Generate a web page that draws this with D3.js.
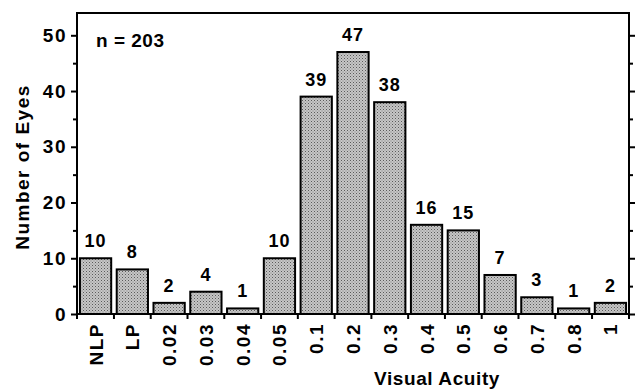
<!DOCTYPE html>
<html>
<head>
<meta charset="utf-8">
<script src="https://cdn.jsdelivr.net/npm/d3@7"></script>
<style>
  body { margin: 0; background: #fff; }
  text { font-family: "Liberation Sans", Arial, Helvetica, sans-serif; font-weight: bold; fill: #000; }
</style>
</head>
<body>
<div id="chart"></div>
<script>
// categories and counts
let categories = ['NLP', 'LP', '0.02', '0.03', '0.04', '0.05', '0.1', '0.2', '0.3', '0.4', '0.5', '0.6', '0.7', '0.8', '1'];
let counts = [10, 8, 2, 4, 1, 10, 39, 47, 38, 16, 15, 7, 3, 1, 2];
let yTicks = [0, 10, 20, 30, 40, 50];
let yMinorTicks = [5, 15, 25, 35, 45];

let width = 635, height = 392;
let margin = { top: 13, right: 6, bottom: 78, left: 77 };
let bodyWidth = width - margin.left - margin.right;
let bodyHeight = height - margin.top - margin.bottom;

let data = categories.map((c, i) => ({ key: c, value: counts[i] }));

let svg = d3.select("#chart").append("svg")
  .attr("width", width)
  .attr("height", height);

// halftone-ish fill like the printed bars
let defs = svg.append("defs");
let pat = defs.append("pattern")
  .attr("id", "stipple")
  .attr("patternUnits", "userSpaceOnUse")
  .attr("width", 3).attr("height", 3);
pat.append("rect").attr("width", 3).attr("height", 3).attr("fill", "#c6c6c6");
pat.append("rect").attr("x", 0).attr("y", 0).attr("width", 1).attr("height", 1).attr("fill", "#5a5a5a");
pat.append("rect").attr("x", 1.5).attr("y", 1.5).attr("width", 1).attr("height", 1).attr("fill", "#808080");

let g = svg.append("g").attr("transform", `translate(${margin.left},${margin.top})`);

let xScale = d3.scaleBand()
  .domain(categories)
  .range([0, bodyWidth])
  .paddingInner(0.15)
  .paddingOuter(0.08);

let yScale = d3.scaleLinear()
  .domain([0, 54])
  .range([bodyHeight, 0]);

// bars
g.selectAll("rect.bar")
  .data(data)
  .enter()
  .append("rect")
  .attr("class", "bar")
  .attr("x", d => xScale(d.key))
  .attr("y", d => yScale(d.value))
  .attr("width", xScale.bandwidth())
  .attr("height", d => bodyHeight - yScale(d.value))
  .attr("fill", "url(#stipple)")
  .attr("stroke", "#000")
  .attr("stroke-width", 2);

// value labels
g.selectAll("text.val")
  .data(data)
  .enter()
  .append("text")
  .attr("class", "val")
  .attr("x", d => xScale(d.key) + xScale.bandwidth() / 2)
  .attr("y", d => yScale(d.value) - 11)
  .attr("text-anchor", "middle")
  .style("font-size", "18px")
  .style("letter-spacing", "1px")
  .text(d => d.value);

// frame
g.append("rect")
  .attr("width", bodyWidth)
  .attr("height", bodyHeight)
  .attr("fill", "none")
  .attr("stroke", "#000")
  .attr("stroke-width", 2);

// left axis
let left = g.append("g").call(d3.axisLeft(yScale).tickValues(yTicks).tickSize(6).tickPadding(4));
left.select(".domain").remove();
left.selectAll("line").attr("stroke-width", 2);
left.selectAll("text")
  .style("font-size", "19px")
  .style("letter-spacing", "1.5px")
  .style("font-family", null);
g.append("g").call(d3.axisLeft(yScale).tickValues(yMinorTicks).tickSize(4).tickFormat(""))
  .call(a => a.select(".domain").remove())
  .selectAll("line").attr("stroke-width", 2);

// right axis ticks
let right = g.append("g").attr("transform", `translate(${bodyWidth},0)`);
right.call(d3.axisRight(yScale).tickValues(yTicks).tickSize(6).tickFormat(""))
  .call(a => a.select(".domain").remove())
  .selectAll("line").attr("stroke-width", 2);
g.append("g").attr("transform", `translate(${bodyWidth},0)`)
  .call(d3.axisRight(yScale).tickValues(yMinorTicks).tickSize(4).tickFormat(""))
  .call(a => a.select(".domain").remove())
  .selectAll("line").attr("stroke-width", 2);

// bottom axis: ticks at band boundaries, labels rotated
let step = xScale.step();
let bounds = d3.range(categories.length + 1).map(i => i === 0 ? 0 : (i === categories.length ? bodyWidth : xScale(categories[i]) - step * xScale.paddingInner() / 2));
g.selectAll("line.xtick")
  .data(bounds)
  .enter()
  .append("line")
  .attr("class", "xtick")
  .attr("x1", d => d).attr("x2", d => d)
  .attr("y1", bodyHeight).attr("y2", bodyHeight + 5)
  .attr("stroke", "#000")
  .attr("stroke-width", 2);

g.selectAll("text.xlab")
  .data(categories)
  .enter()
  .append("text")
  .attr("class", "xlab")
  .attr("transform", d => `translate(${xScale(d) + xScale.bandwidth() / 2 + 7},${bodyHeight + 9}) rotate(-90)`)
  .attr("text-anchor", "end")
  .style("font-size", "19px")
  .style("letter-spacing", "1.5px")
  .text(d => d);

// axis titles
svg.append("text")
  .attr("transform", `translate(29,167) rotate(-90)`)
  .attr("text-anchor", "middle")
  .style("font-size", "19px")
  .style("letter-spacing", "1.5px")
  .text("Number of Eyes");

svg.append("text")
  .attr("x", 437)
  .attr("y", 385)
  .attr("text-anchor", "middle")
  .style("font-size", "19px")
  .style("letter-spacing", "0.6px")
  .text("Visual Acuity");

svg.append("text")
  .attr("x", 96)
  .attr("y", 47)
  .style("font-size", "19px")
  .style("letter-spacing", "0.5px")
  .text("n = 203");
</script>
</body>
</html>
